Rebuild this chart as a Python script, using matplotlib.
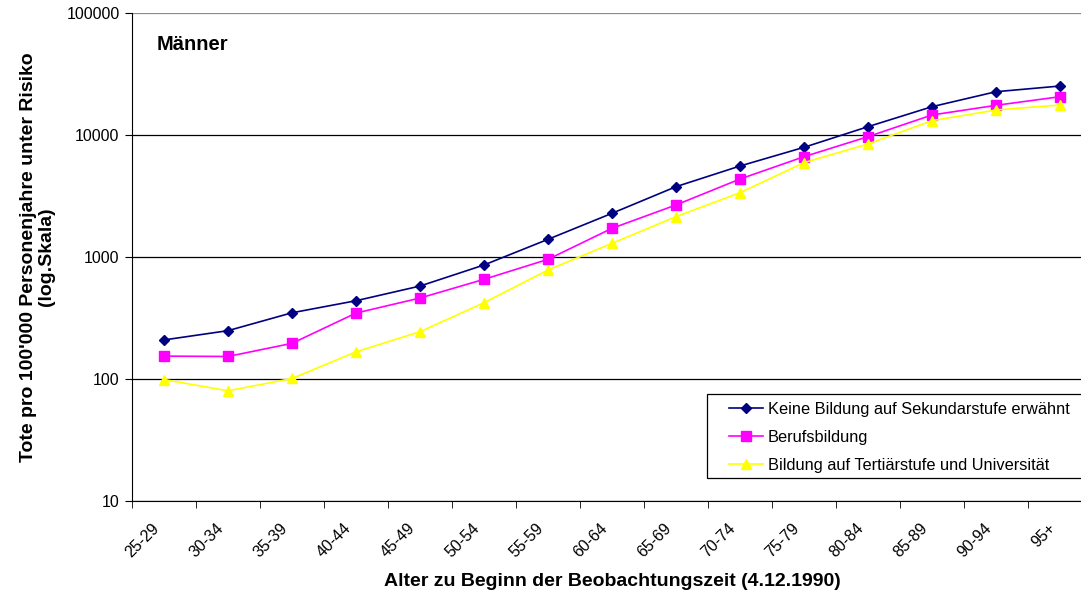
import matplotlib
matplotlib.use("Agg")
import matplotlib.pyplot as plt
import matplotlib.transforms as mtransforms
from matplotlib.patches import Rectangle
import numpy as np

plt.rcParams.update({
    "font.family": ["Liberation Sans", "DejaVu Sans"],
    "font.size": 11.5,
})

# data
age_groups = ["25-29", "30-34", "35-39", "40-44", "45-49", "50-54", "55-59", "60-64",
              "65-69", "70-74", "75-79", "80-84", "85-89", "90-94", "95+"]

keine_bildung = [209, 249, 349, 438, 578, 860, 1396, 2281, 3770, 5570, 7925,
                 11700, 17060, 22640, 25200]
berufsbildung = [154, 153, 196, 347, 461, 656, 957, 1718, 2670, 4357, 6640,
                 9690, 14590, 17510, 20600]
tertiaer = [99, 80, 101, 167, 244, 422, 782, 1295, 2140, 3366, 5930,
            8440, 13100, 16030, 17620]

series_names = ["Keine Bildung auf Sekundarstufe erwähnt", "Berufsbildung",
                "Bildung auf Tertiärstufe und Universität"]

W, H = 1081, 594
fig = plt.figure(figsize=(W / 100, H / 100), dpi=100)
ax = fig.add_axes([132 / W, 93 / H, 960 / W, 488 / H])

x = np.arange(len(age_groups))

ax.plot(x, keine_bildung, color="#000080", marker="D", markersize=5.5,
        linewidth=1.2, label=series_names[0])
ax.plot(x, berufsbildung, color="#FF00FF", marker="s", markersize=6.5,
        linewidth=1.2, label=series_names[1])
ax.plot(x, tertiaer, color="#FFFF00", marker="^", markersize=7.5,
        linewidth=1.2, label=series_names[2])

ax.set_yscale("log")
ax.set_ylim(10, 100000)
ax.set_yticks([10, 100, 1000, 10000, 100000])
ax.set_yticklabels(["10", "100", "1000", "10000", "100000"])
ax.yaxis.set_minor_locator(matplotlib.ticker.NullLocator())
ax.grid(axis="y", color="black", linewidth=0.9)
ax.yaxis.get_gridlines()[-1].set_color("0.55")
ax.set_axisbelow(True)

ax.set_xlim(-0.5, len(age_groups) - 0.5)
ax.set_xticks(x)
ax.set_xticks(np.arange(len(age_groups) + 1) - 0.5, minor=True)
ax.tick_params(axis="x", which="major", length=0, pad=18)
ax.tick_params(axis="x", which="minor", length=5, direction="out")
ax.tick_params(axis="y", length=5, direction="out", pad=4)
ax.set_xticklabels(age_groups, rotation=45, ha="right", va="center",
                   rotation_mode="anchor")
# nudge labels left (after tick_params, which resets transforms)
shift = mtransforms.ScaledTranslation(-7 / 100, 0, fig.dpi_scale_trans)
for lab in ax.get_xticklabels():
    lab.set_transform(lab.get_transform() + shift)

for side in ["top", "right"]:
    ax.spines[side].set_visible(False)

ax.set_xlabel("Alter zu Beginn der Beobachtungszeit (4.12.1990)",
              fontsize=14, fontweight="bold", labelpad=9)
ax.set_ylabel("Tote pro 100'000 Personenjahre unter Risiko\n(log.Skala)",
              fontsize=14, fontweight="bold", labelpad=8, linespacing=1.05)

ax.text(157 / W, 1 - 44 / H, "Männer", transform=fig.transFigure, fontsize=14.5,
        fontweight="bold", va="center", ha="left")

# legend: frame drawn separately so the left padding matches
frame = Rectangle((707 / W, (H - 478) / H), (1100 - 707) / W, 84 / H,
                  transform=fig.transFigure, facecolor="white",
                  edgecolor="black", linewidth=0.9, zorder=4.5, clip_on=False)
ax.add_patch(frame)
leg = ax.legend(loc="center left", bbox_to_anchor=(729 / W, 1 - 437.5 / H),
                bbox_transform=fig.transFigure, fontsize=11.8, frameon=False,
                borderpad=0, borderaxespad=0, handlelength=2.1,
                handletextpad=0.25, labelspacing=0.78)
leg.set_zorder(6)

fig.savefig("out.png", dpi=100)
